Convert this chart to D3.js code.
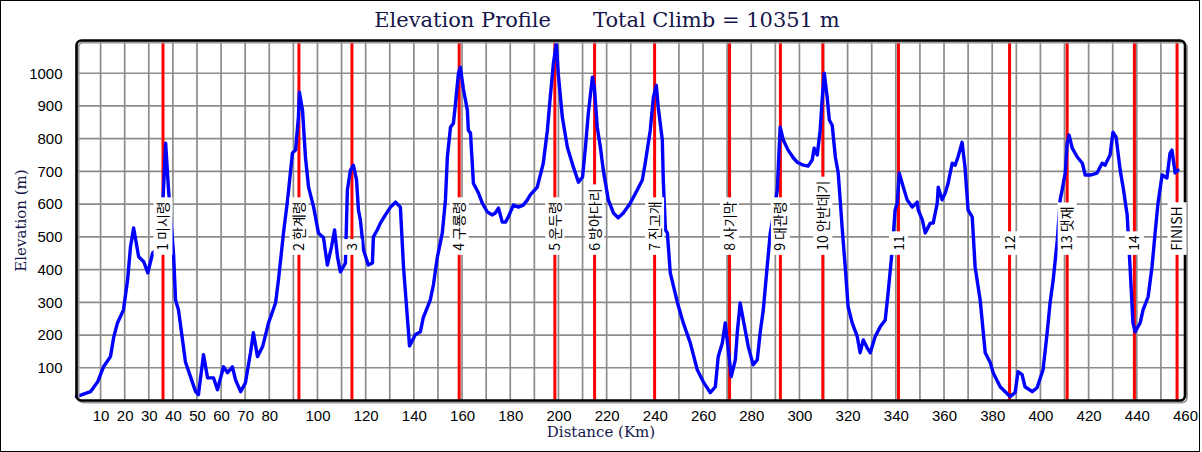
<!DOCTYPE html>
<html><head><meta charset="utf-8">
<script src="https://cdn.jsdelivr.net/npm/d3@7"></script>
<style>body{margin:0;background:#fff;} svg{display:block;}</style>
</head><body><svg id="chart" width="1202" height="452"></svg>
<script>
const distanceKm = [0,5.8,8.8,11.2,14.1,15.4,17.0,19.5,21.2,22.4,23.7,25.8,27.9,29.6,31.6,35.0,35.7,37.0,38.2,40.3,41.1,42.3,44.0,45.2,47.3,49.4,50.6,52.7,54.4,56.9,58.5,61.0,62.7,64.7,66.0,68.1,70.1,72.2,73.4,75.1,77.2,79.7,82.6,83.8,85.9,87.6,89.6,90.9,92.1,92.5,93.8,95.0,96.3,98.4,100.4,102.5,104.1,105.8,107.1,108.3,109.5,111.6,112.4,113.7,114.9,116.2,117.0,117.8,119.1,121.1,122.8,123.2,124.8,126.1,128.2,130.3,132.4,134.4,135.7,138.2,140.6,142.7,143.9,146.8,148.1,149.7,151.8,153.1,153.9,155.2,156.4,157.2,158.5,159.3,160.5,162.2,162.6,163.5,164.7,166.8,168.4,170.5,172.6,173.8,175.1,176.7,178.0,179.2,181.3,183.4,185.4,187.1,188.3,191.2,193.7,195.4,196.6,197.9,199.1,199.9,201.6,203.7,206.2,208.3,210.0,211.2,212.4,214.1,214.9,216.1,217.4,218.6,220.7,222.8,224.8,226.9,229.8,232.7,234.8,236.0,238.1,239.4,240.6,241.4,243.1,243.5,244.4,245.2,246.4,249.4,251.8,254.7,257.6,260.1,263.0,265.1,266.3,268.0,269.2,270.5,271.7,273.4,274.2,275.4,276.7,278.8,280.8,282.5,283.7,285.0,286.6,287.9,289.1,290.8,292.0,293.3,295.3,297.5,299.1,301.6,303.6,305.3,306.1,307.4,308.6,309.5,310.3,311.5,312.4,313.6,314.9,316.1,317.8,319.0,320.2,321.9,324.0,325.2,326.5,328.1,329.4,331.4,333.5,335.6,336.8,338.5,339.7,340.6,341.4,343.1,344.7,346.8,348.9,349.3,351.0,352.2,354.3,355.5,357.2,357.6,359.2,360.5,361.7,363.4,364.6,365.8,367.5,368.7,370.0,371.7,372.9,375.0,377.1,379.2,380.4,383.3,387.4,389.5,390.7,392.4,393.6,396.6,398.6,401.1,402.8,404.0,405.3,407.0,408.2,409.0,410.3,411.1,411.9,413.2,415.3,417.4,418.6,420.7,423.5,425.6,426.8,428.9,430.1,431.4,433.1,434.3,436.0,437.2,438.4,439.3,441.4,442.6,444.7,446.3,447.6,448.8,450.5,452.5,453.8,454.6,455.9,457.1];
const elevationM = [12,27,57,103,134,192,237,277,368,469,527,439,424,390,451,469,582,786,643,445,307,277,185,118,73,27,18,140,69,69,33,103,85,103,63,27,54,146,207,134,164,237,298,368,512,613,756,765,866,942,887,744,652,591,512,497,414,469,521,439,393,420,643,704,719,674,582,552,460,414,420,500,521,542,567,591,606,591,408,167,201,210,253,307,353,436,512,613,744,835,847,902,1000,1018,954,887,826,817,664,634,603,576,567,573,588,545,545,561,597,591,597,613,628,652,725,826,927,1030,1092,1000,866,774,713,667,683,774,878,988,957,835,774,704,613,573,558,573,603,643,674,725,826,927,963,896,796,674,521,512,390,298,237,176,94,57,24,42,134,176,237,155,73,124,207,298,246,164,109,124,207,277,408,512,561,643,835,796,765,741,728,719,716,735,771,750,826,927,1000,927,857,841,744,695,521,408,286,237,195,146,185,161,146,195,225,246,329,460,582,603,695,652,613,591,606,582,552,512,542,542,603,652,613,634,664,725,719,744,789,713,582,561,408,307,146,115,85,42,12,24,88,79,42,27,39,94,207,298,368,490,613,643,695,786,811,771,744,725,689,689,695,725,719,750,820,805,704,652,567,408,237,210,237,277,317,408,512,603,689,680,756,765,695,704];
const checkpointKm = [35.9,92.3,114.3,158.8,198.5,215.0,239.9,271.0,292.1,309.7,341.1,387.2,411.1,439.0,456.7];
const checkpointLabels = ["1 미시령","2 한계령","3","4 구룡령","5 운두령","6 방아다리","7 진고개","8 사기막","9 대관령","10 안반데기","11","12","13 댓재","14","FINISH"];
const xTickValues = [10,20,30,40,50,60,70,80,100,120,140,160,180,200,220,240,260,280,300,320,340,360,380,400,420,440,460];
const yTickValues = [100,200,300,400,500,600,700,800,900,1000];
const titleLeft = "Elevation Profile";
const titleRight = "Total Climb = 10351 m";
const xTitle = "Distance (Km)";
const yTitle = "Elevation (m)";

const svg = d3.select("#chart");
const x = d3.scaleLinear().domain([0, 460]).range([76.5, 1185]);
const y = d3.scaleLinear().domain([0, 1100]).range([400.5, 40.5]);
const navy = "#16164a";
const labelFont = "Liberation Sans, Arial, sans-serif";
const serif = "DejaVu Serif, serif";

// outer border
svg.append("rect").attr("x", 0.5).attr("y", 0.5).attr("width", 1199).attr("height", 451)
  .attr("fill", "#fff").attr("stroke", "#000").attr("stroke-width", 1);

// title
svg.append("text").attr("x", 551).attr("y", 27).attr("text-anchor", "end")
  .attr("font-family", serif).attr("font-size", 21).attr("fill", navy).text(titleLeft);
svg.append("text").attr("x", 593).attr("y", 27).attr("text-anchor", "start")
  .attr("font-family", serif).attr("font-size", 21).attr("fill", navy).text(titleRight);

// grid
const grid = svg.append("g");
grid.selectAll("line.v").data(d3.range(10, 460, 10)).join("line")
  .attr("x1", d => x(d)).attr("x2", d => x(d)).attr("y1", y(1100)).attr("y2", y(0))
  .attr("stroke", "#8c8c8c").attr("stroke-width", 1.7);
grid.selectAll("line.h").data(d3.range(100, 1100, 100)).join("line")
  .attr("x1", x(0)).attr("x2", x(460)).attr("y1", d => y(d)).attr("y2", d => y(d))
  .attr("stroke", "#8c8c8c").attr("stroke-width", 1.7);

// red checkpoint lines
svg.append("g").selectAll("line").data(checkpointKm).join("line")
  .attr("x1", d => x(d)).attr("x2", d => x(d)).attr("y1", y(1100)).attr("y2", y(0))
  .attr("stroke", "#ff0000").attr("stroke-width", 3);

// elevation line
const line = d3.line().x((d, i) => x(distanceKm[i])).y(d => y(d));
svg.append("path").datum(elevationM).attr("d", line)
  .attr("fill", "none").attr("stroke", "#0000ff").attr("stroke-width", 3.4)
  .attr("stroke-linejoin", "round").attr("stroke-linecap", "round");

// frame
svg.append("rect").attr("x", x(0) + 2).attr("y", y(1100) + 2).attr("width", x(460) - x(0)).attr("height", y(0) - y(1100))
  .attr("rx", 5).attr("fill", "none").attr("stroke", "#9a9a9a").attr("stroke-width", 2);
svg.append("rect").attr("x", x(0)).attr("y", y(1100)).attr("width", x(460) - x(0)).attr("height", y(0) - y(1100))
  .attr("rx", 5).attr("fill", "none").attr("stroke", "#000").attr("stroke-width", 2.6);

// axes
const xAxis = svg.append("g").attr("transform", `translate(0,${y(0) + 7})`)
  .call(d3.axisBottom(x).tickValues(xTickValues).tickSize(0).tickFormat(d3.format("d")));
xAxis.select(".domain").remove();
xAxis.selectAll("text").attr("font-family", labelFont).attr("font-size", 15).attr("fill", "#000").attr("dy", "0.71em");

const yAxis = svg.append("g").attr("transform", `translate(${x(0) - 11},0)`)
  .call(d3.axisLeft(y).tickValues(yTickValues).tickSize(0).tickFormat(d3.format("d")));
yAxis.select(".domain").remove();
yAxis.selectAll("text").attr("font-family", labelFont).attr("font-size", 15).attr("fill", "#000");

// axis titles
svg.append("text").attr("x", 601).attr("y", 437).attr("text-anchor", "middle")
  .attr("font-family", serif).attr("font-size", 15).attr("fill", navy).text(xTitle);
svg.append("text").attr("transform", `translate(26,${(y(0) + y(1100)) / 2}) rotate(-90)`)
  .attr("text-anchor", "middle").attr("font-family", serif).attr("font-size", 15).attr("fill", navy).text(yTitle);

// checkpoint labels
const lab = svg.append("g").selectAll("g").data(checkpointKm).join("g")
  .attr("transform", d => `translate(${x(d)},${y(445)}) rotate(-90)`);
lab.each(function(d, i) {
  const g = d3.select(this);
  const r = g.append("rect").attr("fill", "#fff");
  const t = g.append("text").attr("x", 4).attr("y", 0).attr("dy", "0.36em")
    .attr("font-family", "Noto Sans CJK KR, sans-serif").attr("font-size", 14).attr("fill", "#000")
    .text(checkpointLabels[i]);
  const w = t.node().getComputedTextLength();
  r.attr("x", 0).attr("y", -9.5).attr("width", w + 8).attr("height", 19);
});
</script></body></html>
